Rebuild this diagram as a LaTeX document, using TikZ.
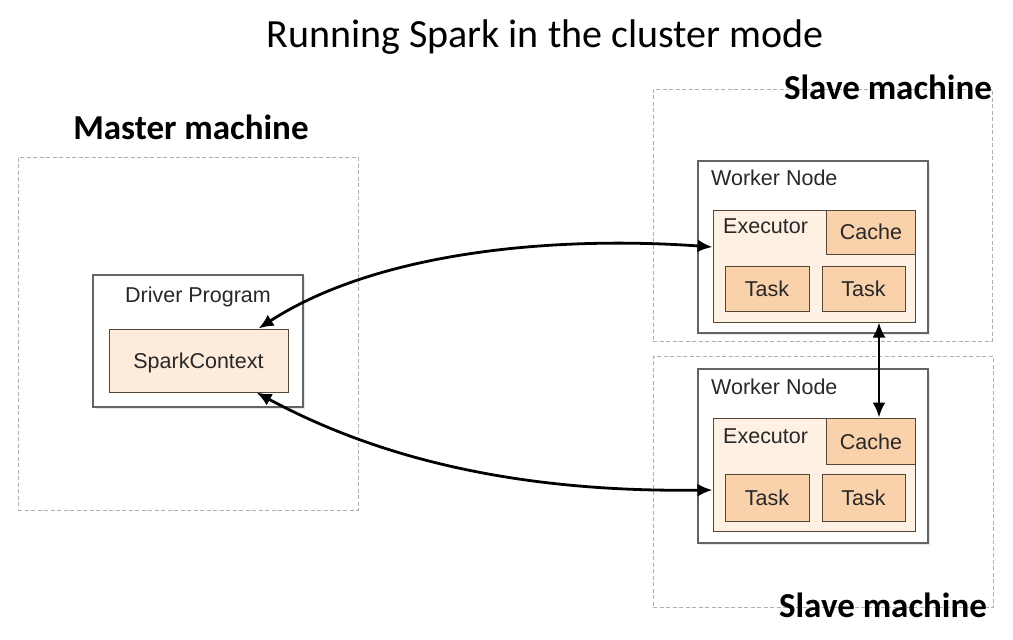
\documentclass[tikz,border=0pt]{standalone}
\usepackage{fontspec}
\setmainfont{Liberation Sans}
\newfontfamily\calib{Carlito}
\usetikzlibrary{arrows.meta,shadows}
\definecolor{dashgray}{RGB}{175,175,175}
\definecolor{boxgray}{RGB}{100,100,100}
\definecolor{lightpeach}{RGB}{253,236,219}
\definecolor{execfill}{RGB}{254,241,227}
\definecolor{orangefill}{RGB}{249,209,170}
\definecolor{brownline}{RGB}{85,70,58}
\definecolor{txtgray}{RGB}{40,40,40}
\tikzset{
  machine/.style={draw=dashgray, dashed, dash pattern=on 4pt off 2.5pt, line width=0.9pt, inner sep=0, fill=white},
  outerbox/.style={draw=boxgray, line width=1.1pt, fill=white, inner sep=0,
     drop shadow={opacity=0.18, shadow xshift=1.5pt, shadow yshift=-1.5pt}},
  execbox/.style={draw=brownline, line width=1pt, fill=execfill, inner sep=0},
  sparkbox/.style={draw=brownline, line width=1pt, fill=lightpeach, inner sep=0},
  orangebox/.style={draw=brownline, line width=1pt, fill=orangefill, inner sep=0},
  boxtext/.style={text=txtgray, font=\fontsize{21.5}{24}\selectfont, inner sep=0},
  bigtitle/.style={font=\calib\fontsize{40}{46}\selectfont, inner sep=0},
  machinelabel/.style={font=\calib\bfseries\fontsize{35}{40}\selectfont, inner sep=0},
  conn/.style={line width=2.8pt, {Latex[length=15pt,width=13pt]}-{Latex[length=15pt,width=13pt]}},
}
\begin{document}
\begin{tikzpicture}[x=1pt,y=-1pt]
\useasboundingbox[fill=white] (0,0) rectangle (1013,640);
% machines
\node[machine, minimum width=340, minimum height=353] (master) at (188,333.5) {};
\node[machine, minimum width=339, minimum height=252] (slave1) at (822.5,215) {};
\node[machine, minimum width=340, minimum height=251] (slave2) at (823,481.5) {};
% labels
\node[bigtitle, anchor=base] (title) at (545,47) {Running Spark in the cluster mode};
\node[machinelabel, anchor=base] (masterlbl) at (191,139) {Master machine};
\node[machinelabel, anchor=base] (slave1lbl) at (888,99) {Slave machine};
\node[machinelabel, anchor=base] (slave2lbl) at (883,617) {Slave machine};
% driver
\node[outerbox, minimum width=210, minimum height=132] (driver) at (198,341) {};
\node[boxtext, anchor=base] (drivertxt) at (198,302) {Driver Program};
\node[sparkbox, minimum width=179, minimum height=63] (spark) at (198.5,360.5) {};
\node[boxtext, anchor=base] (sparktxt) at (198.5,368) {SparkContext};
% worker 1
\node[outerbox, minimum width=230, minimum height=172] (worker1) at (813,247) {};
\node[boxtext, anchor=base west] (w1txt) at (711,185) {Worker Node};
\node[execbox, minimum width=202, minimum height=112] (exec1) at (814,266) {};
\node[boxtext, anchor=base west] (e1txt) at (723,233) {Executor};
\node[orangebox, minimum width=89, minimum height=44] (cache1) at (870.5,232) {};
\node[boxtext, anchor=base] (c1txt) at (871,239.5) {Cache};
\node[orangebox, minimum width=84, minimum height=45] (task1a) at (767,288.5) {};
\node[boxtext, anchor=base] (t1atxt) at (767,296) {Task};
\node[orangebox, minimum width=83, minimum height=45] (task1b) at (863.5,288.5) {};
\node[boxtext, anchor=base] (t1btxt) at (863.5,296) {Task};
% worker 2
\node[outerbox, minimum width=230, minimum height=174] (worker2) at (813,456) {};
\node[boxtext, anchor=base west] (w2txt) at (711,394) {Worker Node};
\node[execbox, minimum width=202, minimum height=113] (exec2) at (814,474.5) {};
\node[boxtext, anchor=base west] (e2txt) at (723,443) {Executor};
\node[orangebox, minimum width=89, minimum height=46] (cache2) at (870.5,441) {};
\node[boxtext, anchor=base] (c2txt) at (871,449) {Cache};
\node[orangebox, minimum width=84, minimum height=47] (task2a) at (767,497.5) {};
\node[boxtext, anchor=base] (t2atxt) at (767,505) {Task};
\node[orangebox, minimum width=83, minimum height=47] (task2b) at (863.5,497.5) {};
\node[boxtext, anchor=base] (t2btxt) at (863.5,505) {Task};
% connectors
\draw[conn] ([xshift=60]spark.north) .. controls (380,250) and (560,236) .. ([yshift=19]exec1.west);
\draw[conn] ([xshift=58]spark.south) .. controls (400,470) and (550,492) .. ([yshift=-15.5]exec2.west);
\draw[conn] ([xshift=8.5]cache2.north) -- ([xshift=8.5]cache2.north |- exec1.south);
\end{tikzpicture}
\end{document}
